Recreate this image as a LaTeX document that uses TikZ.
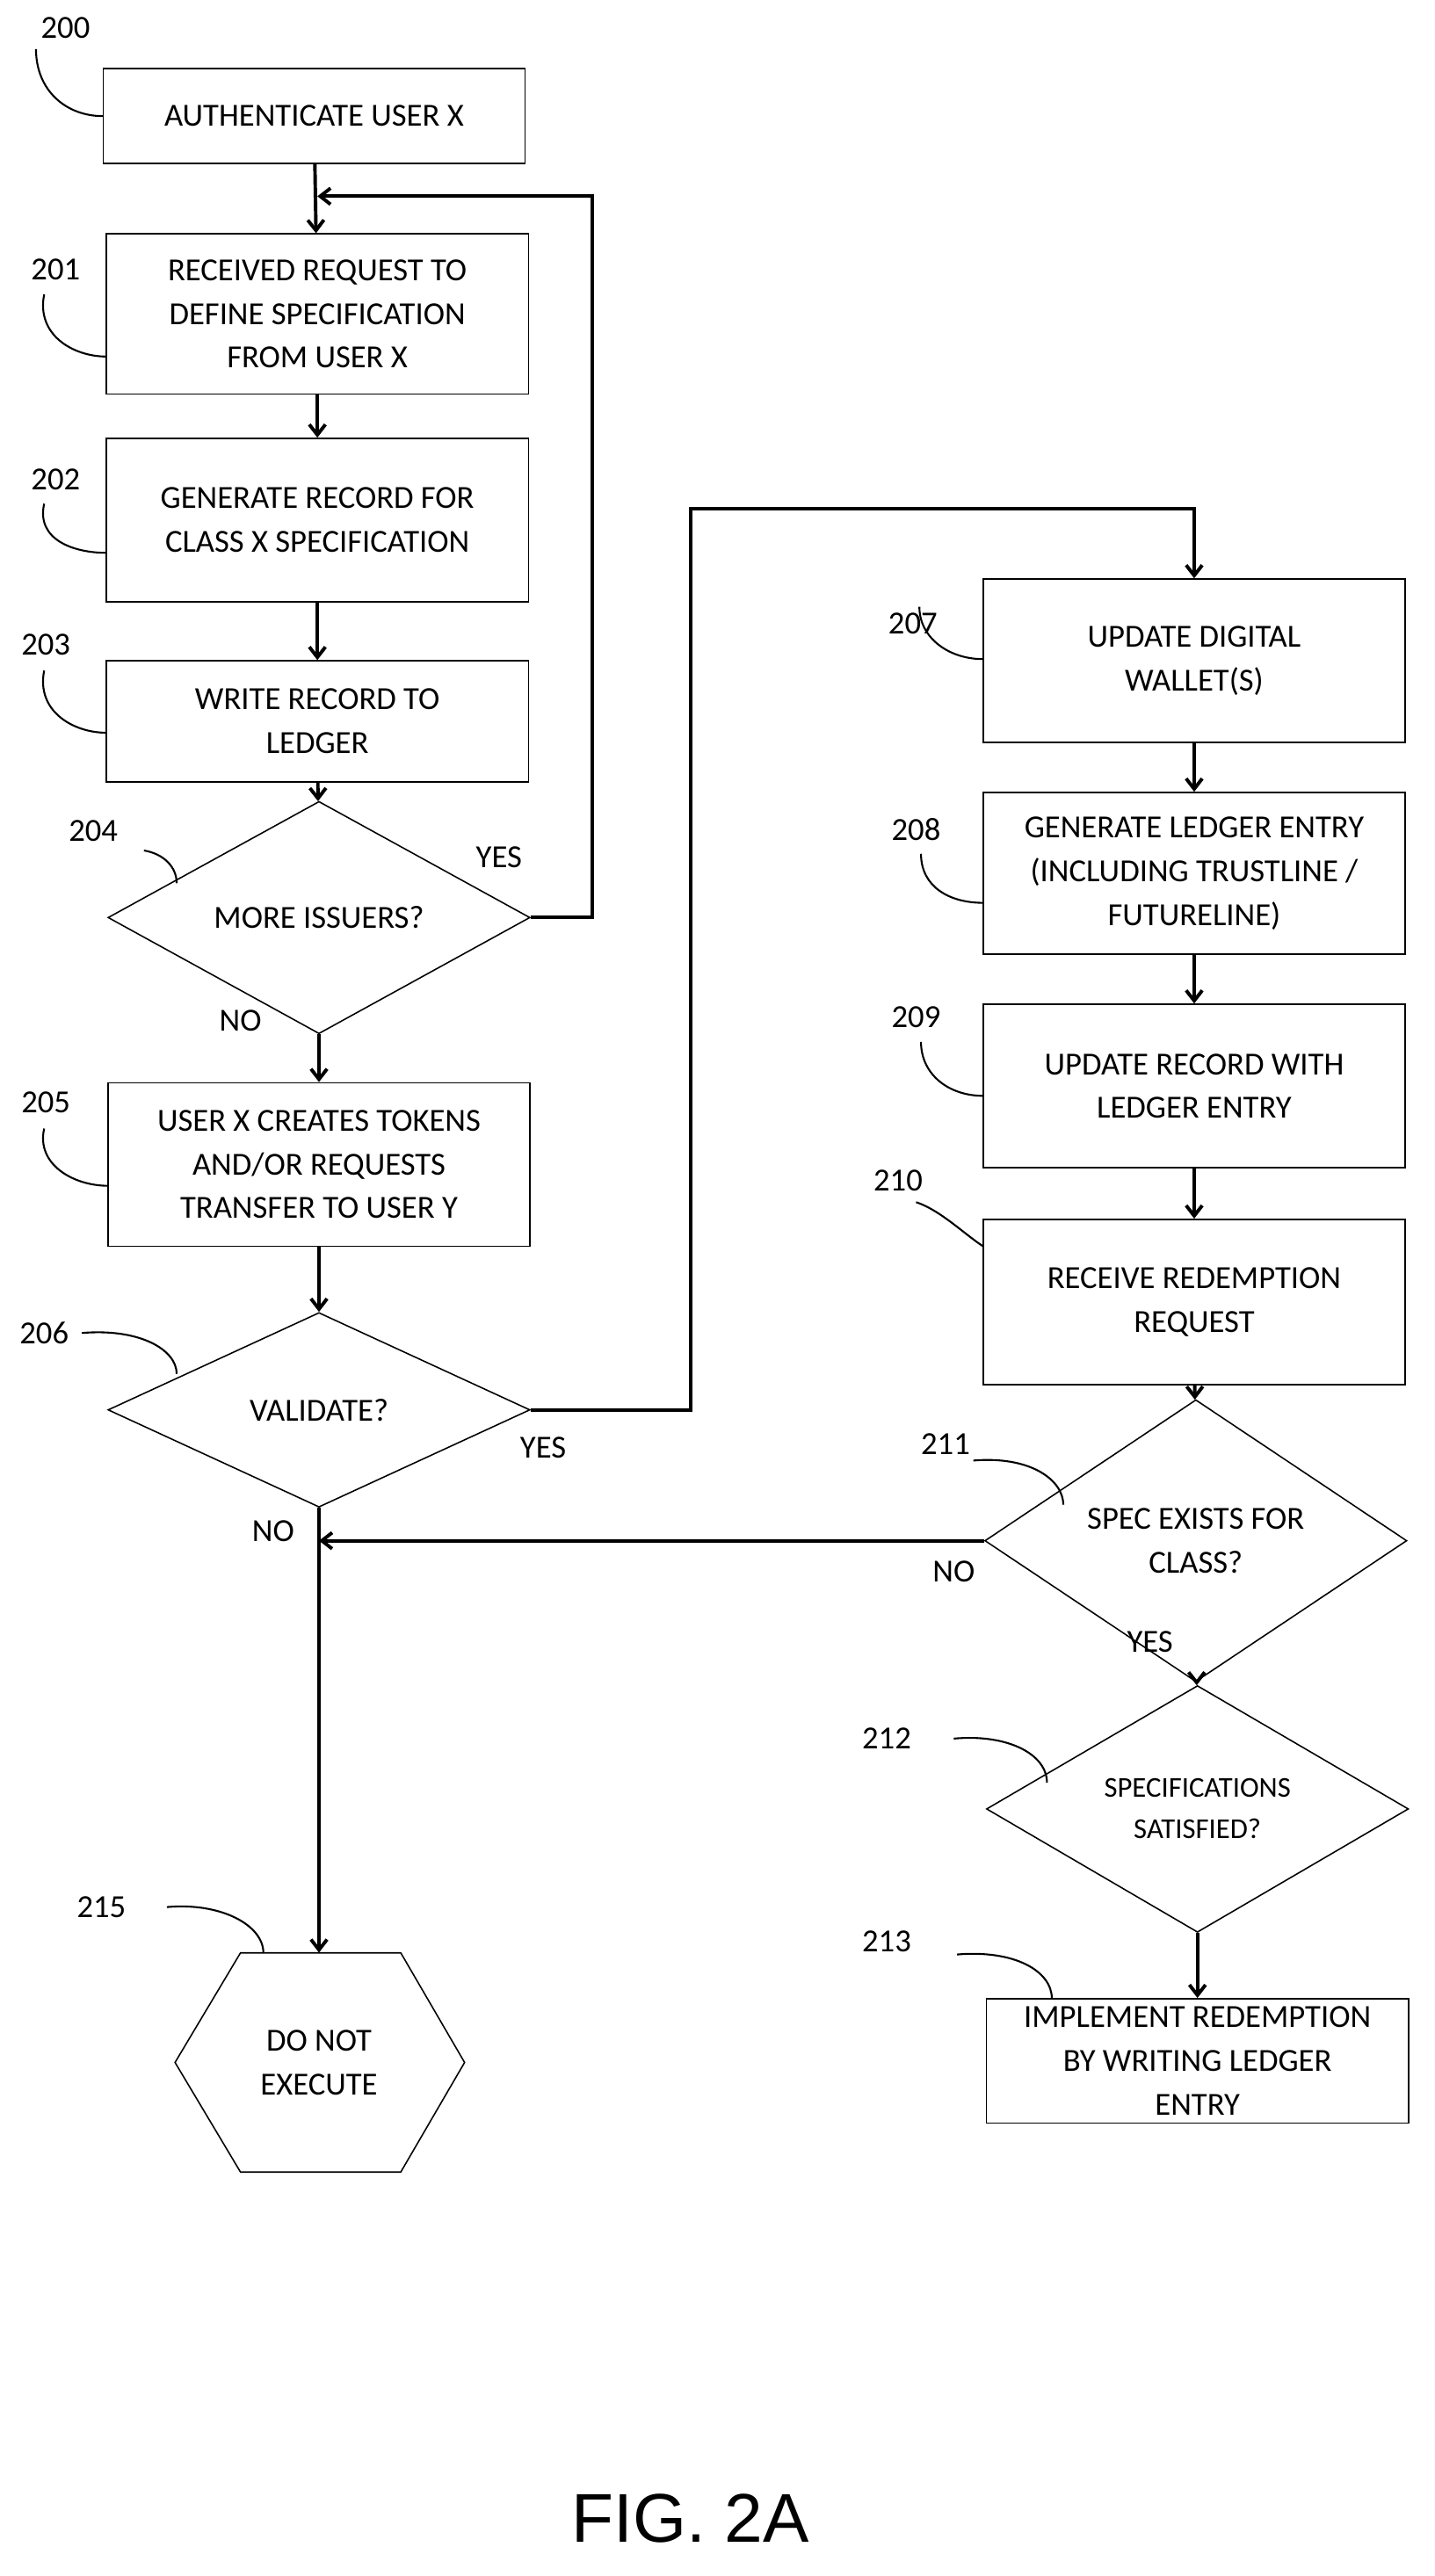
\documentclass[tikz,border=0pt]{standalone}
\usepackage{fontspec}
\setmainfont{Carlito}
\newfontfamily\figfont{Liberation Sans}
\usetikzlibrary{shapes.geometric,arrows.meta,positioning}

\begin{document}
\begin{tikzpicture}[x=0.05cm,y=-0.05cm,
    font=\fontsize{28}{38}\selectfont,
    box/.style={draw,line width=1.2pt,minimum width=12.9cm,align=center,inner sep=0pt},
    test/.style={draw,diamond,line width=1.2pt,minimum width=12.9cm,minimum height=5.95cm,align=center,inner sep=0pt},
    flow/.style={line width=3pt,-{Straight Barb[length=9pt,width=14pt]}},
    lead/.style={line width=1.6pt},
    lbl/.style={inner sep=0pt}]
    \useasboundingbox (0,0) rectangle (877,1575);
    % left column
    \node[box,minimum height=2.9cm] (s200) at (192,71) {AUTHENTICATE USER X};
    \node[box,minimum height=4.9cm] (s201) at (194,192) {RECEIVED REQUEST TO\\DEFINE SPECIFICATION\\FROM USER X};
    \node[box,minimum height=5cm] (s202) at (194,318) {GENERATE RECORD FOR\\CLASS X SPECIFICATION};
    \node[box,minimum height=3.7cm] (s203) at (194,441) {WRITE RECORD TO\\LEDGER};
    \node[test] (s204) at (195,561) {MORE ISSUERS?};
    \node[box,minimum height=5cm] (s205) at (195,712) {USER X CREATES TOKENS\\AND/OR REQUESTS\\TRANSFER TO USER Y};
    \node[test] (s206) at (195,862) {VALIDATE?};
    \node[minimum width=8.85cm,minimum height=6.7cm,align=center] (s215) at (195,1261) {DO NOT\\EXECUTE};
    \draw[line width=1.2pt] (107,1261) -- (147,1194) -- (245,1194) -- (284,1261) -- (245,1328) -- (147,1328) -- cycle;
    % right column
    \node[box,minimum height=5cm] (s207) at (730,404) {UPDATE DIGITAL\\WALLET(S)};
    \node[box,minimum height=4.95cm] (s208) at (730,534) {GENERATE LEDGER ENTRY\\(INCLUDING TRUSTLINE /\\FUTURELINE)};
    \node[box,minimum height=5cm] (s209) at (730,664) {UPDATE RECORD WITH\\LEDGER ENTRY};
    \node[box,minimum height=5.05cm] (s210) at (730,796) {RECEIVE REDEMPTION\\REQUEST};
    \node[test] (s211) at (731,942) {SPEC EXISTS FOR\\CLASS?};
    \node[test,font=\fontsize{25}{36}\selectfont] (s212) at (732,1106) {SPECIFICATIONS\\SATISFIED?};
    \node[box,minimum height=3.8cm] (s213) at (732,1260) {IMPLEMENT REDEMPTION\\BY WRITING LEDGER\\ENTRY};
    % flow
    \draw[flow] (s200) -- (s201);
    \draw[flow] (s201) -- (s202);
    \draw[flow] (s202) -- (s203);
    \draw[flow] (s203) -- (s204);
    \draw[flow] (s204) -- (s205);
    \draw[flow] (s205) -- (s206);
    \draw[flow] (s206) -- (s215);
    \coordinate (back) at (194,120);
    \draw[flow] (s204.east) -- (362,561) -- (362,120) -- (back);
    \draw[flow] (s206.east) -- (422,862) -- (422,311) -- (730,311) -- (s207);
    \draw[flow] (s207) -- (s208);
    \draw[flow] (s208) -- (s209);
    \draw[flow] (s209) -- (s210);
    \draw[flow] (s210) -- (s211);
    \coordinate (join) at (195,942);
    \draw[flow] (s211.west) -- (join);
    \draw[flow] (s211) -- (s212);
    \draw[flow] (s212) -- (s213);
    % labels
    \node at (305,524) {YES};
    \node at (147,624) {NO};
    \node at (332,885) {YES};
    \node at (167,936) {NO};
    \node at (583,961) {NO};
    \node at (703,1004) {YES};
    % reference numerals
    \node[lbl] (n200) at (40,17) {200};
    \draw[lead] (22,30) .. controls (22,55) and (40,71) .. (63,71);
    \node[lbl] (n201) at (34,165) {201};
    \draw[lead] (27,180) .. controls (22,205) and (45,218) .. (65,218);
    \node[lbl] (n202) at (34,293) {202};
    \draw[lead] (27,308) .. controls (22,330) and (45,338) .. (65,338);
    \node[lbl] (n203) at (28,394) {203};
    \draw[lead] (27,410) .. controls (22,435) and (45,448) .. (65,448);
    \node[lbl] (n204) at (57,508) {204};
    \draw[lead] (88,520) .. controls (100,522) and (108,530) .. (108,540);
    \node[lbl] (n205) at (28,674) {205};
    \draw[lead] (27,690) .. controls (22,712) and (45,725) .. (66,725);
    \node[lbl] (n206) at (27,815) {206};
    \draw[lead] (50,815) .. controls (85,812) and (108,825) .. (108,840);
    \node[lbl] (n207) at (558,381) {207};
    \draw[lead] (562,371) .. controls (562,390) and (580,403) .. (601,403);
    \node[lbl] (n208) at (560,507) {208};
    \draw[lead] (563,522) .. controls (563,542) and (580,552) .. (601,552);
    \node[lbl] (n209) at (560,622) {209};
    \draw[lead] (563,637) .. controls (563,657) and (580,670) .. (601,670);
    \node[lbl] (n210) at (549,722) {210};
    \draw[lead] (560,735) .. controls (575,740) and (590,755) .. (601,762);
    \node[lbl] (n211) at (578,883) {211};
    \draw[lead] (595,893) .. controls (630,890) and (650,905) .. (650,920);
    \node[lbl] (n212) at (542,1063) {212};
    \draw[lead] (583,1063) .. controls (615,1060) and (640,1072) .. (640,1090);
    \node[lbl] (n213) at (542,1187) {213};
    \draw[lead] (585,1195) .. controls (620,1192) and (643,1205) .. (643,1222);
    \node[lbl] (n215) at (62,1166) {215};
    \draw[lead] (102,1166) .. controls (135,1163) and (161,1177) .. (161,1194);
    \node[font=\figfont\fontsize{60}{70}\selectfont] (fig) at (422,1540) {FIG. 2A};
\end{tikzpicture}
\end{document}
